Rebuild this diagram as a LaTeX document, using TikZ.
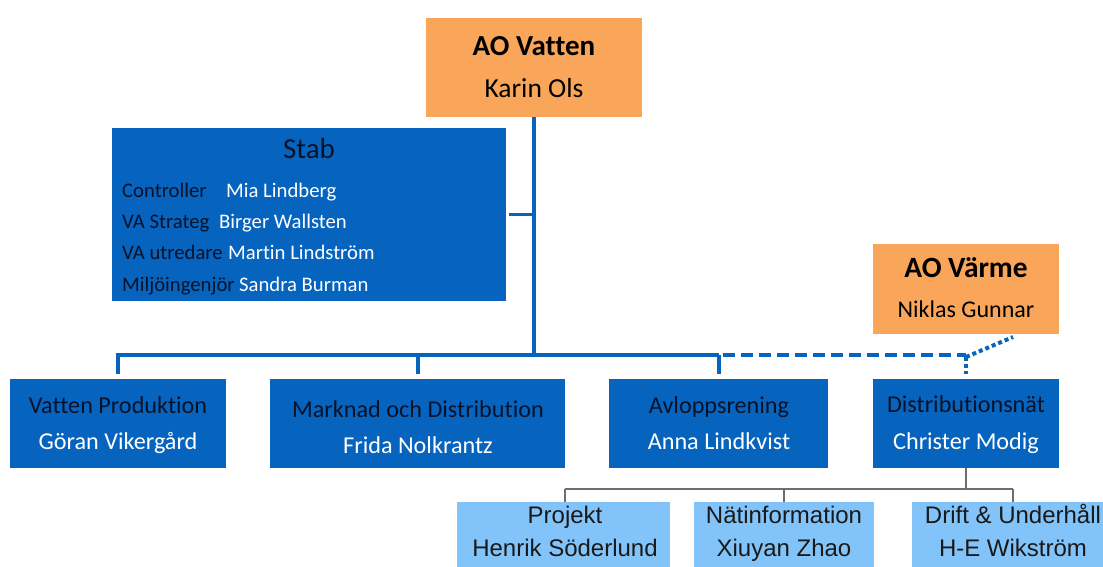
\documentclass[tikz,border=0pt]{standalone}
\usepackage{fontspec}
\setmainfont[Ligatures=NoCommon]{Carlito}
\newfontfamily\arialf{Liberation Sans}
\definecolor{orgc}{RGB}{250,166,90}
\definecolor{bluec}{RGB}{6,100,190}
\definecolor{lightc}{RGB}{130,196,250}
\definecolor{darkt}{RGB}{8,18,40}
\definecolor{grayc}{RGB}{110,110,110}
\newcommand\fsz[1]{\fontsize{#1}{#1}\selectfont}
\begin{document}
\begin{tikzpicture}[x=1pt,y=-1pt,
  boxo/.style={fill=orgc,draw=none,inner sep=0pt,minimum width=#1},
  boxb/.style={fill=bluec,draw=none,inner sep=0pt,minimum width=#1},
  boxl/.style={fill=lightc,draw=none,inner sep=0pt,minimum width=#1},
  txt/.style={inner sep=0pt,anchor=base},
  txtw/.style={inner sep=0pt,anchor=base west},
  bline/.style={draw=bluec,line width=3.5pt},
  dline/.style={draw=bluec,line width=3.5pt,dash pattern=on 12pt off 6pt},
  oline/.style={draw=bluec,line width=4pt,dash pattern=on 4pt off 3pt},
  gline/.style={draw=grayc,line width=1.3pt}]
\useasboundingbox (0,0) rectangle (1103,566);
\fill[white] (0,0) rectangle (1103,566);
\clip (0,0) rectangle (1103,566);

% boxes
\node[boxo=216pt,minimum height=99pt] (vatten) at (534,67.5) {};
\node[boxb=394pt,minimum height=173pt] (stab) at (309,214.5) {};
\node[boxo=186pt,minimum height=90pt] (varme) at (966,289) {};
\node[boxb=216pt,minimum height=89pt] (vp) at (118,423.5) {};
\node[boxb=295pt,minimum height=89pt] (mod) at (417.5,423.5) {};
\node[boxb=219pt,minimum height=89pt] (avl) at (718.5,423.5) {};
\node[boxb=186pt,minimum height=89pt] (dist) at (966,423.5) {};
\node[boxl=213pt,minimum height=70pt] (proj) at (563.5,537) {};
\node[boxl=180pt,minimum height=70pt] (nat) at (784,537) {};
\node[boxl=202pt,minimum height=70pt] (drift) at (1013,537) {};

% texts
\node[txt,font=\fsz{29}\bfseries] (t1) at (534,55) {AO Vatten};
\node[txt,font=\fsz{27.5}] (t2) at (534,97) {Karin Ols};
\node[txt,font=\fsz{29},text=darkt] (t3) at (309,158) {Stab};
\node[txtw,font=\fsz{20.7},text=darkt] (s1) at (122,197) {Controller};
\node[txtw,font=\fsz{20.7},text=white] (n1) at (226,197) {Mia Lindberg};
\node[txtw,font=\fsz{20.7},text=darkt] (s2) at (122,228) {VA Strateg};
\node[txtw,font=\fsz{20.7},text=white] (n2) at (219,228) {Birger Wallsten};
\node[txtw,font=\fsz{20.7},text=darkt] (s3) at (122,259) {VA utredare};
\node[txtw,font=\fsz{20.7},text=white] (n3) at (228,259) {Martin Lindström};
\node[txtw,font=\fsz{20.7},text=darkt] (s4) at (122,291) {Miljöingenjör};
\node[txtw,font=\fsz{20.7},text=white] (n4) at (239,291) {Sandra Burman};
\node[txt,font=\fsz{29.4}\bfseries] (t4) at (966,277) {AO Värme};
\node[txt,font=\fsz{24}] (t5) at (966,317) {Niklas Gunnar};
\node[txt,font=\fsz{24.2},text=darkt] (a1) at (118,413) {Vatten Produktion};
\node[txt,font=\fsz{24.2},text=white] (a2) at (118,449) {Göran Vikergård};
\node[txt,font=\fsz{24.2},text=darkt] (b1) at (418,417) {Marknad och Distribution};
\node[txt,font=\fsz{24.2},text=white] (b2) at (418,453) {Frida Nolkrantz};
\node[txt,font=\fsz{24.2},text=darkt] (c1) at (719,413) {Avloppsrening};
\node[txt,font=\fsz{24.2},text=white] (c2) at (719,449) {Anna Lindkvist};
\node[txt,font=\fsz{24.2},text=darkt] (d1) at (966,412) {Distributionsnät};
\node[txt,font=\fsz{24.2},text=white] (d2) at (966,449) {Christer Modig};
\node[txt,font=\arialf\fsz{24},text=black!90] (p1) at (565,523) {Projekt};
\node[txt,font=\arialf\fsz{24},text=black!90] (p2) at (565,556) {Henrik Söderlund};
\node[txt,font=\arialf\fsz{24},text=black!90] (q1) at (784,523) {Nätinformation};
\node[txt,font=\arialf\fsz{24},text=black!90] (q2) at (784,556) {Xiuyan Zhao};
\node[txt,font=\arialf\fsz{24},text=black!90] (r1) at (1013,523) {Drift \& Underhåll};
\node[txt,font=\arialf\fsz{24},text=black!90] (r2) at (1013,556) {H-E Wikström};

% connector coordinates
\coordinate (hub) at (534,355);
\coordinate (vpj) at (118,355);
\coordinate (modj) at (418,355);
\coordinate (avlj) at (719,355);
\coordinate (distj) at (966,355);
\coordinate (vtip) at (1013,337);
\coordinate (gj) at (966,489);
\coordinate (gl) at (565,489);
\coordinate (gm) at (784,489);
\coordinate (gr) at (1013,489);

% blue connectors
\draw[bline] (vatten.south) -- (hub);
\draw[bline] ([xshift=3pt]stab.east) -- (stab.east -| hub);
\draw[bline] ([xshift=-1.75pt]vpj) -- (avlj);
\draw[bline] (vpj) -- ([yshift=5pt]vp.north -| vpj);
\draw[bline] (modj) -- ([yshift=5pt]mod.north -| modj);
\draw[bline] (avlj) -- ([yshift=5pt]avl.north -| avlj);
\draw[dline] ([xshift=4pt]avlj) -- (distj);
\draw[oline] ([yshift=-2pt]distj) -- ([yshift=5pt]dist.north);
\draw[oline] ([yshift=-2pt]distj) -- (vtip);

% gray connectors
\draw[gline] (dist.south) -- (gj);
\draw[gline] (gl) -- (gr);
\draw[gline] (gl) -- (gl |- proj.north);
\draw[gline] (gm) -- (gm |- nat.north);
\draw[gline] (gr) -- (gr |- drift.north);
\end{tikzpicture}
\end{document}
